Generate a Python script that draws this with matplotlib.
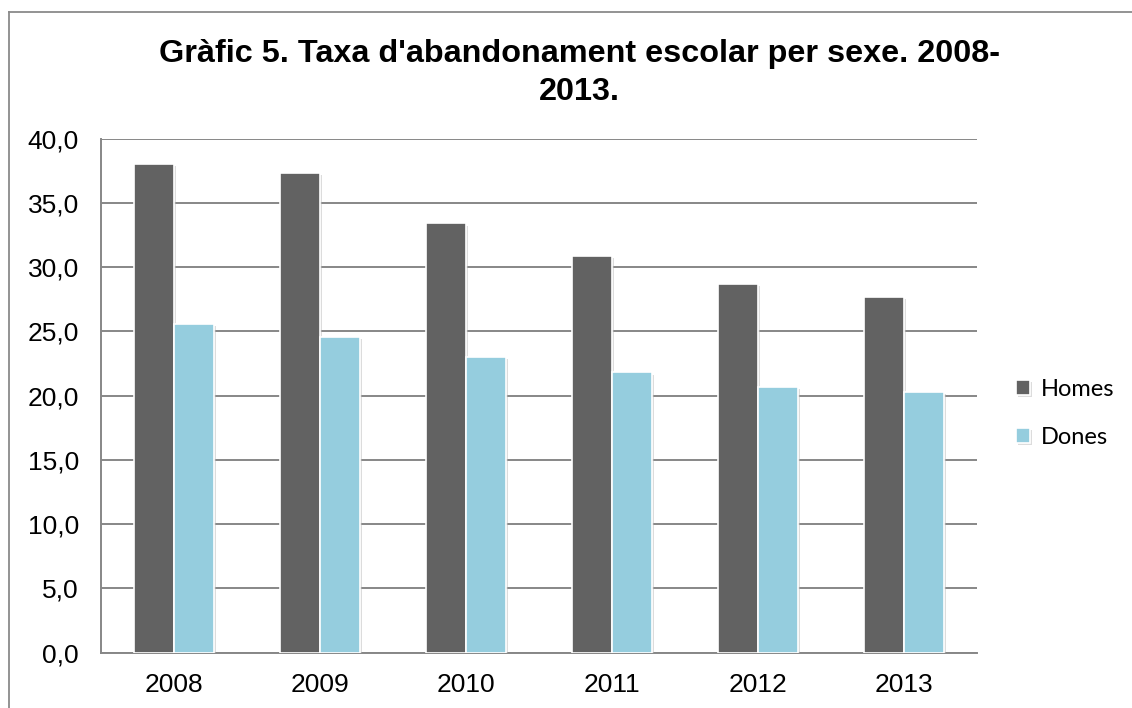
import matplotlib
matplotlib.use("Agg")
import matplotlib.pyplot as plt
import matplotlib.patheffects as pe
from matplotlib.ticker import FuncFormatter
from matplotlib.lines import Line2D
import numpy as np

# Data
years = ["2008", "2009", "2010", "2011", "2012", "2013"]
homes = [38.0, 37.3, 33.4, 30.9, 28.7, 27.7]
dones = [25.6, 24.6, 23.0, 21.8, 20.7, 20.3]

title = "Gràfic 5. Taxa d'abandonament escolar per sexe. 2008-\n2013."

dark = "#626262"
blue = "#95CDDE"
grid = "#878787"

fig = plt.figure(figsize=(11.32, 7.08), dpi=100)
ax = fig.add_axes([101 / 1132, 1 - 652.5 / 708, 876 / 1132, 513.8 / 708])

x = np.arange(len(years))
w = 0.276
shadow = [pe.SimplePatchShadow(offset=(1.5, -1.5), shadow_rgbFace="#bbbbbb", alpha=0.5), pe.Normal()]
b1 = ax.bar(x - w / 2, homes, w, color=dark, edgecolor="white", linewidth=1.2, label="Homes", zorder=3)
b2 = ax.bar(x + w / 2, dones, w, color=blue, edgecolor="white", linewidth=1.2, label="Dones", zorder=3)
for b in list(b1) + list(b2):
    b.set_path_effects(shadow)

ax.set_xlim(-0.5, len(years) - 0.5)
ax.set_ylim(0, 40)
ax.set_yticks(np.arange(0, 41, 5))
ax.yaxis.set_major_formatter(FuncFormatter(lambda v, p: f"{v:.1f}".replace(".", ",")))
ax.set_xticks(x)
ax.set_xticklabels(years)
ax.tick_params(axis="both", length=0, labelsize=19, colors="black")
ax.tick_params(axis="y", pad=16)
ax.tick_params(axis="x", pad=15)
for lab in ax.get_xticklabels() + ax.get_yticklabels():
    lab.set_family("Liberation Sans")

ax.grid(axis="y", color=grid, linewidth=1.4, zorder=0)
for s in ["top", "right"]:
    ax.spines[s].set_visible(False)
for s in ["left", "bottom"]:
    ax.spines[s].set_color(grid)
    ax.spines[s].set_linewidth(1.4)

fig.text(0.512, 1 - 73 / 708, title, ha="center", va="center", fontsize=23.3,
         fontweight="bold", family="Liberation Sans", linespacing=1.35)

leg = ax.legend(loc="center left", bbox_to_anchor=(1.02, 0.465), frameon=False,
                prop={"family": "Lato", "size": 17}, handlelength=0.6, handleheight=0.6,
                handletextpad=0.45, labelspacing=1.15)

# outer chart frame (top and left only visible)
fig.add_artist(Line2D([8.5 / 1132, 1.0], [1 - 12 / 708, 1 - 12 / 708], color="#8a8a8a", lw=1.3))
fig.add_artist(Line2D([8.5 / 1132, 8.5 / 1132], [0, 1 - 12 / 708], color="#8a8a8a", lw=1.3))

fig.savefig("out.png", dpi=100, facecolor="white")
